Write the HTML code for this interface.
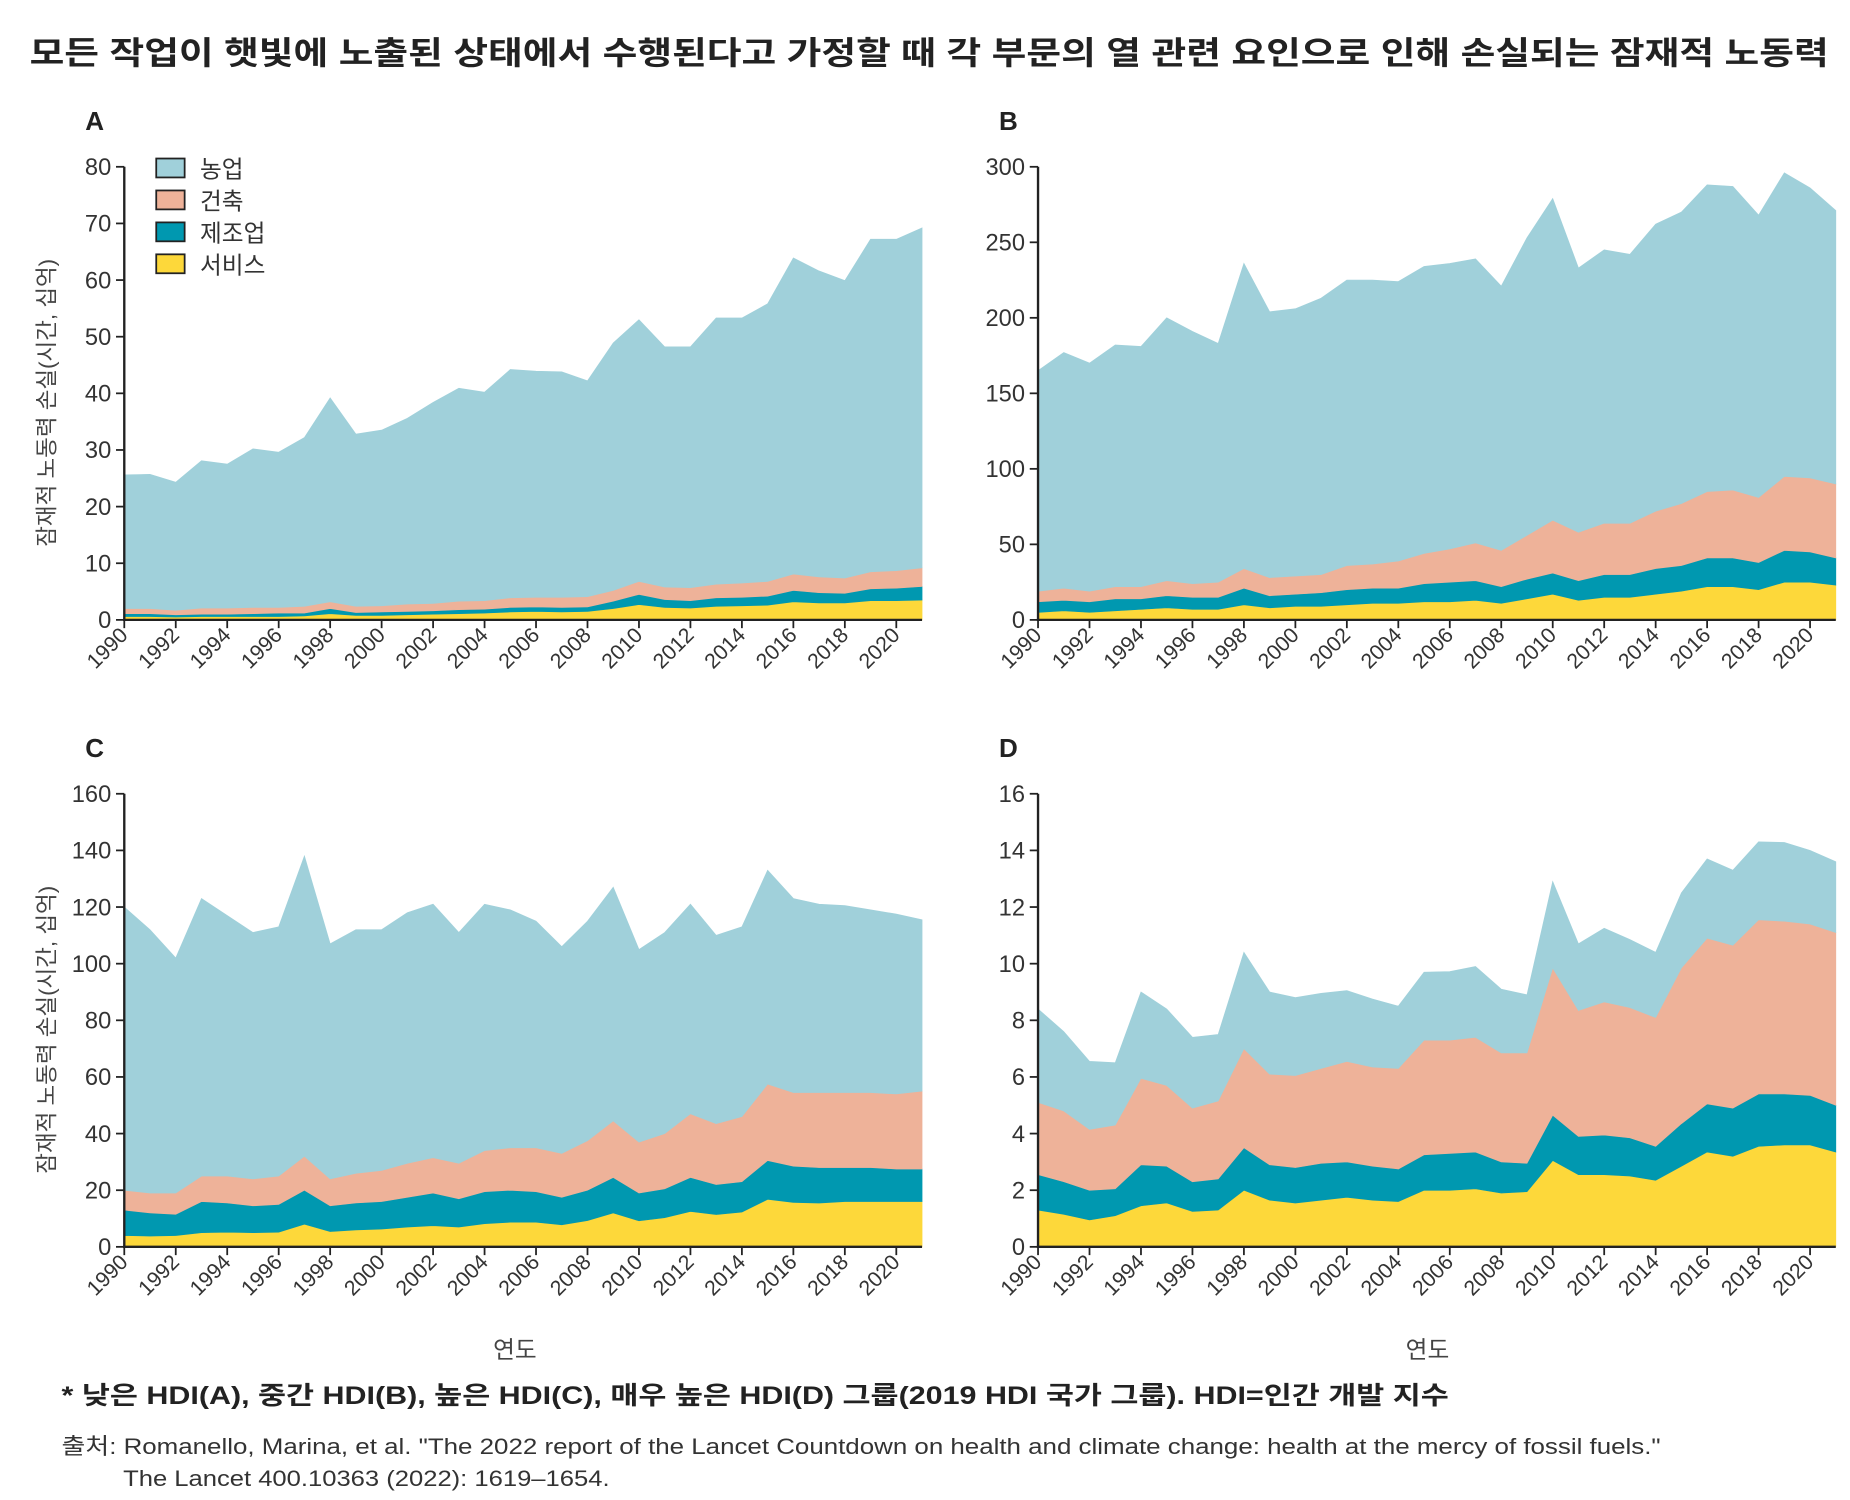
<!DOCTYPE html>
<html><head><meta charset="utf-8"><style>
html,body{margin:0;padding:0;background:#fff;}
svg{display:block;}
text{font-family:"Liberation Sans","Noto Sans CJK KR",sans-serif;}
</style></head><body>
<svg id="chart" width="1850" height="1500" viewBox="0 0 1563 1268" preserveAspectRatio="none" xmlns="http://www.w3.org/2000/svg">
<text x="25" y="54" font-size="27" font-weight="bold" fill="#222" textLength="1520" lengthAdjust="spacingAndGlyphs">모든 작업이 햇빛에 노출된 상태에서 수행된다고 가정할 때 각 부문의 열 관련 요인으로 인해 손실되는 잠재적 노동력</text>
<g id="panels"></g>
<text x="435" y="1148" font-size="20" fill="#444" text-anchor="middle">연도</text>
<text x="1206" y="1148" font-size="20" fill="#444" text-anchor="middle">연도</text>
<text x="52" y="1187" font-size="21" font-weight="bold" fill="#222" textLength="1172" lengthAdjust="spacingAndGlyphs">* 낮은 HDI(A), 중간 HDI(B), 높은 HDI(C), 매우 높은 HDI(D) 그룹(2019 HDI 국가 그룹). HDI=인간 개발 지수</text>
<text x="52" y="1229" font-size="19" fill="#333" textLength="1351" lengthAdjust="spacingAndGlyphs">출처: Romanello, Marina, et al. "The 2022 report of the Lancet Countdown on health and climate change: health at the mercy of fossil fuels."</text>
<text x="104" y="1256" font-size="19" fill="#333" textLength="411" lengthAdjust="spacingAndGlyphs">The Lancet 400.10363 (2022): 1619–1654.</text>
</svg>
<script>
const years = [];
for (let y = 1990; y <= 2021; y++) years.push(y);
const seriesNames = ["서비스", "제조업", "건축", "농업"];
const seriesColors = ["#fdd83a", "#0098b0", "#eeb299", "#a0d0da"];
const tickYears = [1990,1992,1994,1996,1998,2000,2002,2004,2006,2008,2010,2012,2014,2016,2018,2020];

const servicesA = [0.6,0.6,0.5,0.6,0.6,0.6,0.6,0.7,1.1,0.8,0.8,0.9,1.0,1.1,1.2,1.4,1.5,1.4,1.5,2.0,2.7,2.2,2.1,2.4,2.5,2.6,3.2,3.0,3.0,3.4,3.4,3.5];
const manufA = [0.5,0.5,0.4,0.4,0.4,0.5,0.6,0.5,0.9,0.5,0.6,0.6,0.6,0.7,0.7,0.8,0.8,0.8,0.8,1.3,1.8,1.4,1.3,1.5,1.5,1.6,2.0,1.8,1.7,2.1,2.2,2.4];
const constrA = [0.9,0.9,0.8,1.1,1.1,1.1,1.0,1.2,1.2,1.1,1.1,1.3,1.3,1.5,1.5,1.7,1.7,1.8,1.8,1.9,2.3,2.2,2.3,2.4,2.5,2.6,2.9,2.8,2.7,3.0,3.1,3.3];
const agriA = [23.6,23.7,22.6,26.0,25.4,28.0,27.4,29.8,36.0,30.4,31.0,32.8,35.5,37.6,36.8,40.3,39.9,39.8,38.1,43.7,46.2,42.4,42.5,47.0,46.8,49.0,55.8,54.0,52.5,58.7,58.5,60.0];

const servicesB = [5,6,5,6,7,8,7,7,10,8,9,9,10,11,11,12,12,13,11,14,17,13,15,15,17,19,22,22,20,25,25,23];
const manufB = [7,7,7,8,7,8,8,8,11,8,8,9,10,10,10,12,13,13,11,13,14,13,15,15,17,17,19,19,18,21,20,18];
const constrB = [7,8,7,8,8,10,9,10,13,12,12,12,16,16,18,20,22,25,24,29,35,32,34,34,38,41,44,45,43,49,49,49];
const agriB = [146,156,151,160,159,174,167,158,202,176,177,183,189,188,185,190,189,188,175,197,213,175,181,178,190,193,203,201,187,201,192,181];

const servicesC = [4,3.8,4,5,5.2,5,5.2,8,5.4,6,6.3,7,7.5,7,8.2,8.7,8.7,7.8,9.3,12,9.2,10.3,12.5,11.4,12.3,16.8,15.7,15.5,16,16,16,16];
const manufC = [9,8.2,7.5,11,10.3,9.5,9.8,12,9.1,9.5,9.7,10.5,11.5,10,11.3,11.3,10.8,9.7,10.7,12.5,9.8,10.2,12,10.6,10.7,13.7,12.8,12.5,12,12,11.5,11.5];
const constrC = [7,7,7.5,9,9.5,9.5,10,12,9.5,10.5,11,12,12.5,12.5,14.5,15,15.5,15.5,17.5,20,18,19.5,22.5,21.5,23,27,26,26.5,26.5,26.5,26.5,27.5];
const agriC = [100,93,83,98,92,87,88,106,83,86,85,88.5,89.5,81.5,87,84,80,73,77.5,82.5,68,71,74,66.5,67,75.5,68.5,66.5,66,64.5,63.5,60.5];

const servicesD = [1.3,1.15,0.95,1.1,1.45,1.55,1.25,1.3,2.0,1.65,1.55,1.65,1.75,1.65,1.6,2.0,2.0,2.05,1.9,1.95,3.05,2.55,2.55,2.5,2.35,2.85,3.35,3.2,3.55,3.6,3.6,3.35];
const manufD = [1.25,1.15,1.05,0.95,1.45,1.3,1.05,1.1,1.5,1.25,1.25,1.3,1.25,1.2,1.15,1.25,1.3,1.3,1.1,1.0,1.6,1.35,1.4,1.35,1.2,1.5,1.7,1.7,1.85,1.8,1.75,1.65];
const constrD = [2.55,2.5,2.15,2.25,3.05,2.85,2.6,2.75,3.5,3.2,3.25,3.35,3.55,3.5,3.55,4.05,4.0,4.05,3.85,3.9,5.2,4.45,4.7,4.6,4.55,5.5,5.85,5.75,6.15,6.1,6.05,6.1];
const agriD = [3.3,2.8,2.4,2.2,3.05,2.7,2.5,2.35,3.4,2.9,2.75,2.65,2.5,2.4,2.2,2.4,2.42,2.5,2.25,2.05,3.05,2.35,2.6,2.4,2.3,2.65,2.8,2.65,2.75,2.78,2.6,2.5];

const ticksA = [0,10,20,30,40,50,60,70,80];
const ticksB = [0,50,100,150,200,250,300];
const ticksC = [0,20,40,60,80,100,120,140,160];
const ticksD = [0,2,4,6,8,10,12,14,16];

const NS = "http://www.w3.org/2000/svg";
const root = document.getElementById("panels");
function mk(tag, attrs, parent) {
  const e = document.createElementNS(NS, tag);
  for (const k in attrs) e.setAttribute(k, attrs[k]);
  parent.appendChild(e);
  return e;
}

function drawPanel(cfg) {
  const g = mk("g", {}, root);
  
  
  const x0 = cfg.x0, x1 = cfg.x0 + 674, y0 = cfg.y0, yT = cfg.y0 - 383;
  const maxV = cfg.ticks[cfg.ticks.length - 1];
  const xs = yr => x0 + (yr - 1990) * (x1 - x0) / 31 * 1.0;
  const ys = v => y0 - v / maxV * (y0 - yT);
  const xd = i => x0 + i * (x1 - x0) / (years.length - 1);

  const lab = mk("text", {x: cfg.x0 - 33, y: yT - 31, "font-size": 22, "font-weight": "bold", fill: "#222"}, g);
  lab.textContent = cfg.id;
  
  

  let base = years.map(() => 0);
  cfg.series.forEach((arr, si) => {
    const top = base.map((b, i) => b + arr[i]);
    let d = "M" + years.map((yr, i) => xd(i).toFixed(2) + "," + ys(top[i]).toFixed(2)).join(" L");
    for (let i = years.length - 1; i >= 0; i--) d += " L" + xd(i).toFixed(2) + "," + ys(base[i]).toFixed(2);
    d += " Z";
    const p = mk("path", {d: d, fill: seriesColors[si], stroke: seriesColors[si], "stroke-width": 0.6}, g);
    
    
    base = top;
  });

  const ya = mk("line", {x1: x0, y1: yT, x2: x0, y2: y0 + 1, stroke: "#222", "stroke-width": 2}, g);
  
  
  const xa = mk("line", {x1: x0 - 1, y1: y0, x2: x1, y2: y0, stroke: "#222", "stroke-width": 2}, g);
  
  

  cfg.ticks.forEach(t => {
    const yy = ys(t);
    const tl = mk("line", {x1: x0 - 7, y1: yy, x2: x0, y2: yy, stroke: "#222", "stroke-width": 1.5}, g);
    
    
    const tx = mk("text", {x: x0 - 11, y: yy + 7, "font-size": 20, fill: "#333", "text-anchor": "end"}, g);
    tx.textContent = t;
    
    
  });
  tickYears.forEach(yr => {
    const xx = xs(yr);
    const tl = mk("line", {x1: xx, y1: y0, x2: xx, y2: y0 + 7, stroke: "#222", "stroke-width": 1.5}, g);
    
    
    const tx = mk("text", {x: xx + 4, y: y0 + 14, "font-size": 18, fill: "#333", "text-anchor": "end", transform: "rotate(-45 " + (xx + 4) + " " + (y0 + 14) + ")"}, g);
    tx.textContent = yr;
    
    
  });
  if (cfg.yTitle) {
    const cy = (y0 + yT) / 2 + 8;
    const tt = mk("text", {x: 46, y: cy, "font-size": 19, fill: "#444", "text-anchor": "middle", transform: "rotate(-90 46 " + cy + ")"}, g);
    tt.textContent = "잠재적 노동력 손실(시간, 십억)";
    
    
  }
}

drawPanel({id: "A", x0: 105, y0: 524, ticks: ticksA, series: [servicesA, manufA, constrA, agriA], yTitle: true});
drawPanel({id: "B", x0: 877, y0: 524, ticks: ticksB, series: [servicesB, manufB, constrB, agriB]});
drawPanel({id: "C", x0: 105, y0: 1054, ticks: ticksC, series: [servicesC, manufC, constrC, agriC], yTitle: true});
drawPanel({id: "D", x0: 877, y0: 1054, ticks: ticksD, series: [servicesD, manufD, constrD, agriD]});

// legend
const lg = mk("g", {}, root);


[3, 2, 1, 0].forEach((si, k) => {
  const yy = 134 + k * 27;
  const r = mk("rect", {x: 132, y: yy, width: 24, height: 16, fill: seriesColors[si], stroke: "#222", "stroke-width": 1.5}, lg);
  
  
  const t = mk("text", {x: 169, y: yy + 16, "font-size": 20, fill: "#333"}, lg);
  t.textContent = seriesNames[si];
  
  
});
</script>
</body></html>
